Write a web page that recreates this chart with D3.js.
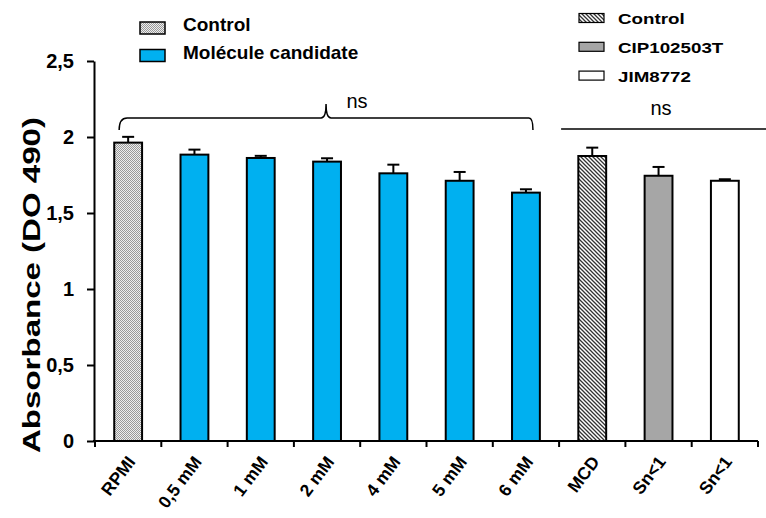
<!DOCTYPE html>
<html><head><meta charset="utf-8">
<script src="https://cdn.jsdelivr.net/npm/d3@7/dist/d3.min.js"></script>
<style>body{margin:0;background:#fff;} svg{display:block;font-family:Arial,"Liberation Sans",sans-serif;}</style>
</head><body>
<svg id="c" width="766" height="518"></svg>
<script>
const categories = ["RPMI","0,5 mM","1 mM","2 mM","4 mM","5 mM","6 mM","MCD","Sn<1","Sn<1"];
const values = [1.963,1.884,1.862,1.838,1.761,1.712,1.634,1.875,1.745,1.712];
const errors = [0.038,0.033,0.014,0.022,0.057,0.058,0.022,0.055,0.058,0.010];
const groups = ["dots","blue","blue","blue","blue","blue","blue","hatch","gray","white"];
const yTicks = [0,0.5,1,1.5,2,2.5];
const yTickLabels = ["0","0,5","1","1,5","2","2,5"];
const legendLeft = [["dots","Control"],["blue","Molécule candidate"]];
const legendRight = [["hatch","Control"],["gray","CIP102503T"],["white","JIM8772"]];
const fills = {dots:"url(#dots)",blue:"#00b0f0",hatch:"url(#hatch)",gray:"#a6a6a6",white:"#ffffff"};

const svg = d3.select("#c");
const defs = svg.append("defs");
const pd = defs.append("pattern").attr("id","dots").attr("patternUnits","userSpaceOnUse").attr("width",2).attr("height",2);
pd.append("rect").attr("width",2).attr("height",2).attr("fill","#eeeeee");
pd.append("rect").attr("width",1).attr("height",1).attr("fill","#999");
pd.append("rect").attr("x",1).attr("y",1).attr("width",1).attr("height",1).attr("fill","#999");
const ph = defs.append("pattern").attr("id","hatch").attr("patternUnits","userSpaceOnUse").attr("width",4).attr("height",4);
ph.append("rect").attr("width",4).attr("height",4).attr("fill","#fff");
ph.append("path").attr("d","M-1,-1L5,5M-1,3L1,5M3,-1L5,1").attr("stroke","#333").attr("stroke-width",1.3);

const x = d3.scaleBand().domain(d3.range(categories.length)).range([95,758]).paddingInner(0.58).paddingOuter(0.29);
const y = d3.scaleLinear().domain([0,2.5]).range([441,61]);

// y axis
const yAxis = svg.append("g").attr("transform","translate(94,0)")
  .call(d3.axisLeft(y).tickValues(yTicks).tickFormat((d,i)=>yTickLabels[i]).tickSize(7).tickSizeOuter(0).tickPadding(13));
yAxis.select(".domain").attr("stroke","#000").attr("stroke-width",2);
yAxis.selectAll(".tick line").attr("stroke-width",2);
yAxis.selectAll("text").attr("font-size",20).attr("font-weight","bold").attr("fill","#000").attr("font-family","Arial,'Liberation Sans',sans-serif");

// bars
const step = x.step();
svg.append("g").selectAll("rect").data(values).join("rect")
  .attr("x",(d,i)=>x(i)).attr("width",x.bandwidth())
  .attr("y",d=>y(d)).attr("height",d=>y(0)-y(d))
  .attr("fill",(d,i)=>fills[groups[i]]).attr("stroke","#000").attr("stroke-width",2);

// error bars
const eg = svg.append("g").attr("stroke","#000").attr("stroke-width",2);
values.forEach((v,i)=>{
  const cx = x(i)+x.bandwidth()/2;
  eg.append("line").attr("x1",cx).attr("x2",cx).attr("y1",y(v)).attr("y2",y(v+errors[i]));
  eg.append("line").attr("x1",cx-6).attr("x2",cx+6).attr("y1",y(v+errors[i])).attr("y2",y(v+errors[i]));
});

// x axis
const xg = svg.append("g");
xg.append("line").attr("x1",93).attr("x2",758).attr("y1",y(0)).attr("y2",y(0)).attr("stroke","#000").attr("stroke-width",2);
d3.range(categories.length+1).forEach(i=>{
  const tx = 95 + i*step;
  xg.append("line").attr("x1",tx).attr("x2",tx).attr("y1",y(0)).attr("y2",y(0)+6).attr("stroke","#000").attr("stroke-width",2);
});
categories.forEach((c,i)=>{
  const cx = x(i)+x.bandwidth()/2;
  xg.append("text").attr("transform",`translate(${cx+8},${y(0)+21}) rotate(-53)`)
    .attr("text-anchor","end").attr("font-size",17.5).attr("font-weight","bold").text(c);
});

// y label
svg.append("text").attr("transform","translate(40,285) rotate(-90)").attr("text-anchor","middle")
  .attr("font-size",24).attr("font-weight","bold").attr("textLength",336).attr("lengthAdjust","spacingAndGlyphs")
  .text("Absorbance (DO 490)");

// brace
const bx1 = x(0)+x.bandwidth()/2-9, bx2 = x(6)+x.bandwidth()/2+7, bm=(bx1+bx2)/2, by=118;
svg.append("path").attr("fill","none").attr("stroke","#000").attr("stroke-width",1.5)
  .attr("d",`M${bx1},${by+12} Q${bx1},${by} ${bx1+8},${by} L${bm-5},${by} Q${bm},${by} ${bm},${by-14} Q${bm},${by} ${bm+5},${by} L${bx2-4},${by} Q${bx2},${by} ${bx2},${by+12}`);
svg.append("text").attr("x",bm+31).attr("y",108).attr("text-anchor","middle").attr("font-size",20).text("ns");
// right line
svg.append("line").attr("x1",95+7*step+2).attr("x2",766).attr("y1",129).attr("y2",129).attr("stroke","#000").attr("stroke-width",1.5);
svg.append("text").attr("x",661).attr("y",115).attr("text-anchor","middle").attr("font-size",20).text("ns");

// legends
legendLeft.forEach((d,i)=>{
  const ly = 22 + i*27.5;
  svg.append("rect").attr("x",140).attr("y",ly).attr("width",25).attr("height",12).attr("fill",fills[d[0]]).attr("stroke","#000").attr("stroke-width",1.5);
  svg.append("text").attr("x",183).attr("y",ly+9).attr("font-size",19).attr("font-weight","bold").text(d[1]);
});
legendRight.forEach((d,i)=>{
  const ly = 13.5 + i*28.8;
  svg.append("rect").attr("x",579).attr("y",ly).attr("width",25).attr("height",9).attr("fill",fills[d[0]]).attr("stroke","#000").attr("stroke-width",1.2);
  const t = svg.append("text").attr("x",618).attr("y",ly+10.5).attr("font-size",15).attr("font-weight","bold").text(d[1]);
  const w = t.node().getComputedTextLength();
  t.attr("textLength",w*1.25).attr("lengthAdjust","spacingAndGlyphs");
});
</script>
</body></html>
